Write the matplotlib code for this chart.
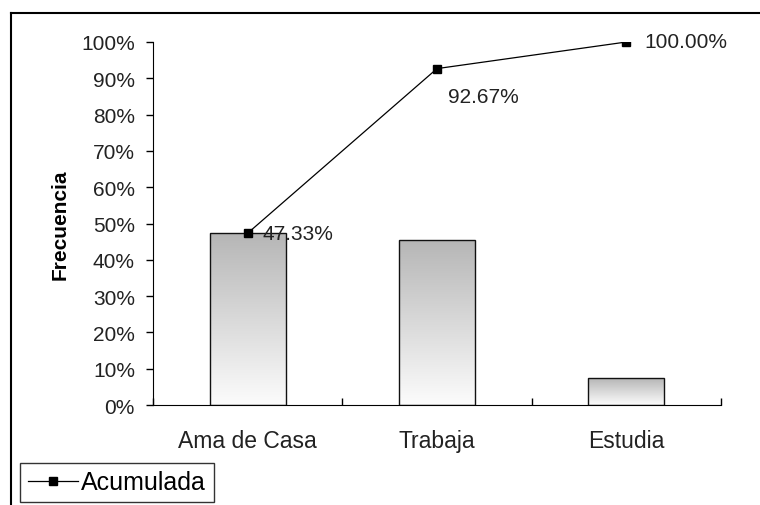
import matplotlib
matplotlib.use("Agg")
import matplotlib.pyplot as plt
import numpy as np
from matplotlib.lines import Line2D

plt.rcParams['font.family'] = ['Liberation Sans', 'DejaVu Sans']

# data
categorias = ["Ama de Casa", "Trabaja", "Estudia"]
frecuencia = [47.33, 45.33, 7.33]
acumulada = [47.33, 92.67, 100.00]
etiquetas = ["47.33%", "92.67%", "100.00%"]
yticks = [0, 10, 20, 30, 40, 50, 60, 70, 80, 90, 100]

fig = plt.figure(figsize=(7.6, 5.06), dpi=100)
ax = fig.add_axes([153/760, 1-406/506, (721-153)/760, (406-43)/506])

x = np.arange(len(categorias))
bars = ax.bar(x, frecuencia, width=0.4, facecolor='none', edgecolor='#111111', linewidth=1.0, zorder=3)

# gradient fill inside each bar
grad = np.linspace(1.0, 0.0, 256).reshape(-1, 1)
cmap = matplotlib.colors.LinearSegmentedColormap.from_list('g', ['#fcfcfc', '#b6b6b6'])
for b in bars:
    x0, y0 = b.get_x(), b.get_y()
    w, h = b.get_width(), b.get_height()
    im = ax.imshow(grad, cmap=cmap, aspect='auto', extent=[x0, x0 + w, y0, y0 + h],
                   origin='upper', zorder=2)
    im.set_clip_path(b)

line, = ax.plot(x, acumulada, color='black', linewidth=0.9, marker='s', markersize=6,
                markerfacecolor='black', zorder=4, label='Acumulada')

offsets = [(11, 0), (8, -20), (13, 0)]
for xi, yi, t, off in zip(x, acumulada, etiquetas, offsets):
    ax.annotate(t, (xi, yi), xytext=off, textcoords='offset points', fontsize=15,
                color='#222222', va='center', ha='left', zorder=5)

ax.set_xlim(-0.5, 2.5)
ax.set_ylim(0, 100)
ax.set_yticks(yticks)
ax.set_yticklabels([f"{v}%" for v in yticks], fontsize=15, color='#222222')
ax.set_xticks([-0.5, 0.5, 1.5, 2.5], minor=False)
ax.set_xticklabels([])
ax.set_xticks(x, minor=True)
ax.set_xticklabels(categorias, minor=True, fontsize=16.5, color='#222222')
ax.tick_params(axis='x', which='major', direction='in', length=5, width=1)
ax.tick_params(axis='x', which='minor', length=0, pad=17.5)
ax.tick_params(axis='y', direction='out', length=5, width=1, pad=8)
ax.set_ylabel("Frecuencia", fontsize=15, fontweight='bold', labelpad=8.5)

ax.spines['top'].set_visible(False)
ax.spines['right'].set_visible(False)

leg = ax.legend(handles=[line], loc='lower left', bbox_to_anchor=(20/760, 1-503/506),
                bbox_transform=fig.transFigure, fontsize=18, frameon=True, fancybox=False,
                edgecolor='black', borderpad=0.3, handlelength=2.0, handletextpad=0.15,
                borderaxespad=0)
leg.get_frame().set_linewidth(1.0)

# outer chart frame
fig.add_artist(Line2D([11/760, 1.0], [1-14/506, 1-14/506], transform=fig.transFigure,
                      color='black', linewidth=1.5))
fig.add_artist(Line2D([11/760, 11/760], [0, 1-14/506], transform=fig.transFigure,
                      color='black', linewidth=1.5))

fig.savefig("out.png", dpi=100)
